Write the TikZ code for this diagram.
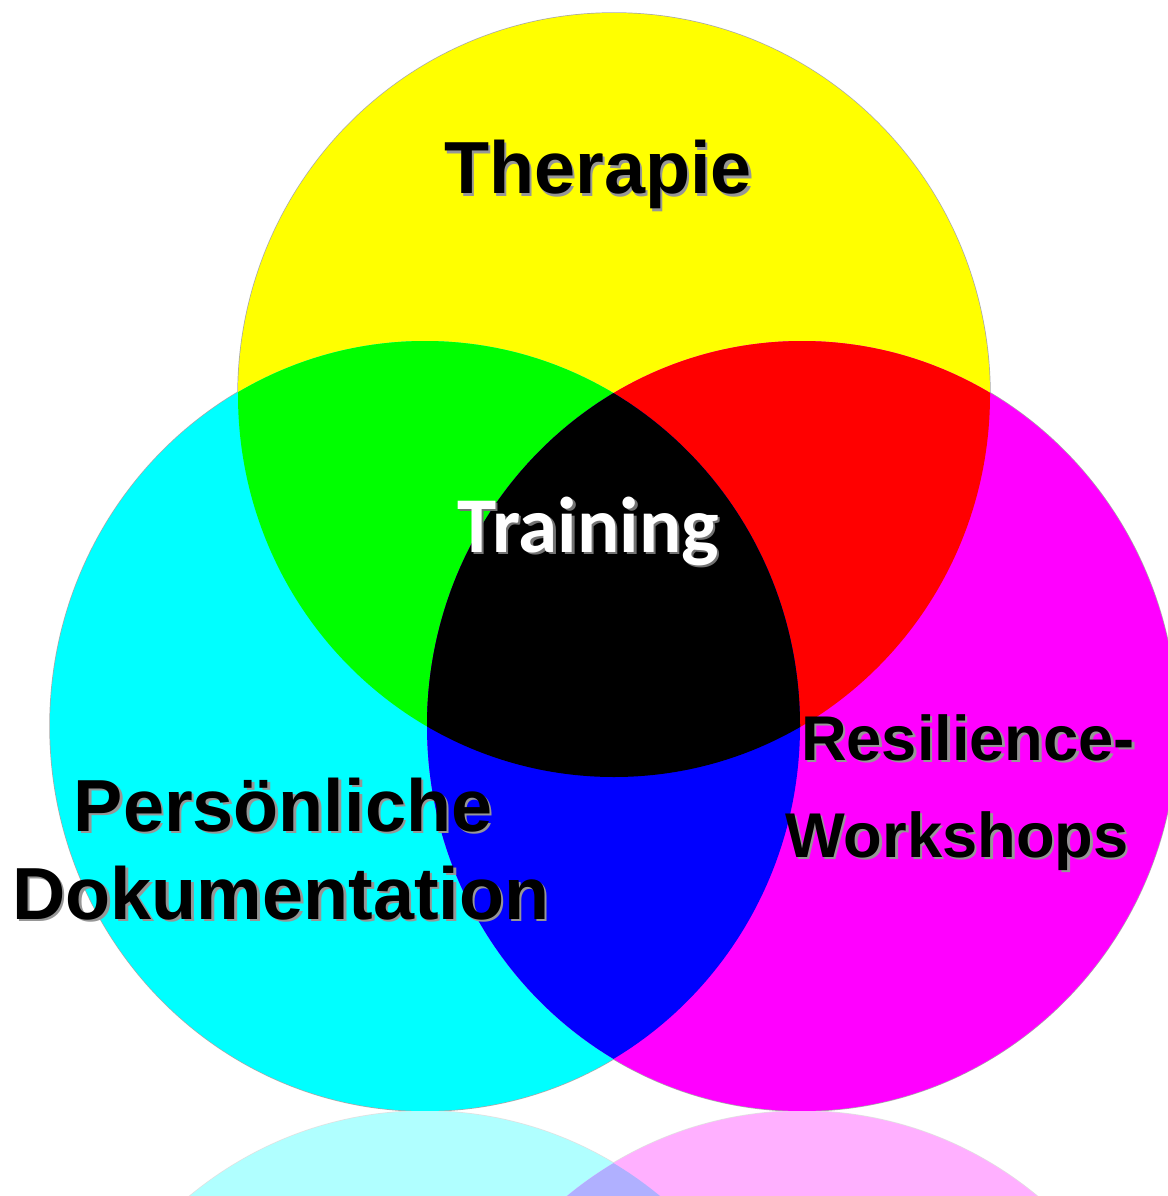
\documentclass[tikz,border=0pt]{standalone}
\usepackage{fontspec}
\setmainfont{Liberation Sans}
\newfontfamily\trainingfont{Carlito}
\definecolor{setyellow}{RGB}{255,255,0}
\definecolor{setcyan}{RGB}{0,255,255}
\definecolor{setmagenta}{RGB}{255,0,255}
\definecolor{mixgreen}{RGB}{0,255,0}
\definecolor{mixred}{RGB}{255,0,0}
\definecolor{mixblue}{RGB}{0,0,255}
\definecolor{mixcore}{RGB}{0,0,0}
\definecolor{rimgray}{RGB}{168,168,168}
\definecolor{shadowgray}{RGB}{150,150,150}

% the three sets, in pixel units (y grows downwards)
\newcommand{\yellowset}{(614,395) ellipse [x radius=376, y radius=382]}
\newcommand{\cyanset}{(425,726) ellipse [x radius=375, y radius=385]}
\newcommand{\magentaset}{(802,726) ellipse [x radius=375, y radius=385]}
\newcommand{\vennsets}{%
  \draw[rim] \yellowset; \draw[rim] \cyanset; \draw[rim] \magentaset;
  \fill[setyellow] \yellowset;
  \fill[setcyan] \cyanset;
  \fill[setmagenta] \magentaset;
  \begin{scope} \clip \yellowset; \fill[mixgreen] \cyanset; \fill[mixred] \magentaset; \end{scope}
  \begin{scope} \clip \cyanset; \fill[mixblue] \magentaset; \end{scope}
  \begin{scope} \clip \yellowset; \clip \cyanset; \fill[mixcore] \magentaset; \end{scope}}

\begin{document}
\begin{tikzpicture}[x=0.02cm, y=-0.02cm,
  rim/.style={draw=rimgray, line width=0.8pt},
  biglabel/.style={font=\bfseries\fontsize{42}{50}\selectfont, anchor=base, inner sep=0pt},
  smalllabel/.style={font=\bfseries\fontsize{36}{43}\selectfont, anchor=base, inner sep=0pt},
  corelabel/.style={font=\trainingfont\bfseries\fontsize{45}{54}\selectfont, text=white, anchor=base, inner sep=0pt},
  textshadow/.style={text=shadowgray, xshift=0.05cm, yshift=-0.05cm}
]
\useasboundingbox (0,0) rectangle (1167,1196);
\fill[white] (0,0) rectangle (1167,1196);

\vennsets

% mirrored, faded copy under the sets
\begin{scope}
  \clip (0,1111) rectangle (1167,1196);
  \begin{scope}[shift={(0,2222)}, yscale=-1]
    \colorlet{setyellow}{setyellow!31!white}
    \colorlet{setcyan}{setcyan!31!white}
    \colorlet{setmagenta}{setmagenta!31!white}
    \colorlet{mixblue}{mixblue!31!white}
    \colorlet{rimgray}{rimgray!35!white}
    \vennsets
  \end{scope}
\end{scope}

\node[biglabel, textshadow] (therapie shadow) at (598,194) {Therapie};
\node[biglabel] (therapie) at (598,194) {Therapie};

\node[corelabel, textshadow, text=black!55] (training shadow) at (588,552) {Training};
\node[corelabel] (training) at (588,552) {Training};

\node[biglabel, textshadow] (persoenlich shadow) at (283,831) {Persönliche};
\node[biglabel] (persoenlich) at (283,831) {Persönliche};
\node[biglabel, textshadow] (doku shadow) at (281,919) {Dokumentation};
\node[biglabel] (doku) at (281,919) {Dokumentation};

\node[smalllabel, textshadow] (resilience shadow) at (968,760) {Resilience-};
\node[smalllabel] (resilience) at (968,760) {Resilience-};
\node[smalllabel, textshadow] (workshops shadow) at (957,857) {Workshops};
\node[smalllabel] (workshops) at (957,857) {Workshops};
\end{tikzpicture}
\end{document}
